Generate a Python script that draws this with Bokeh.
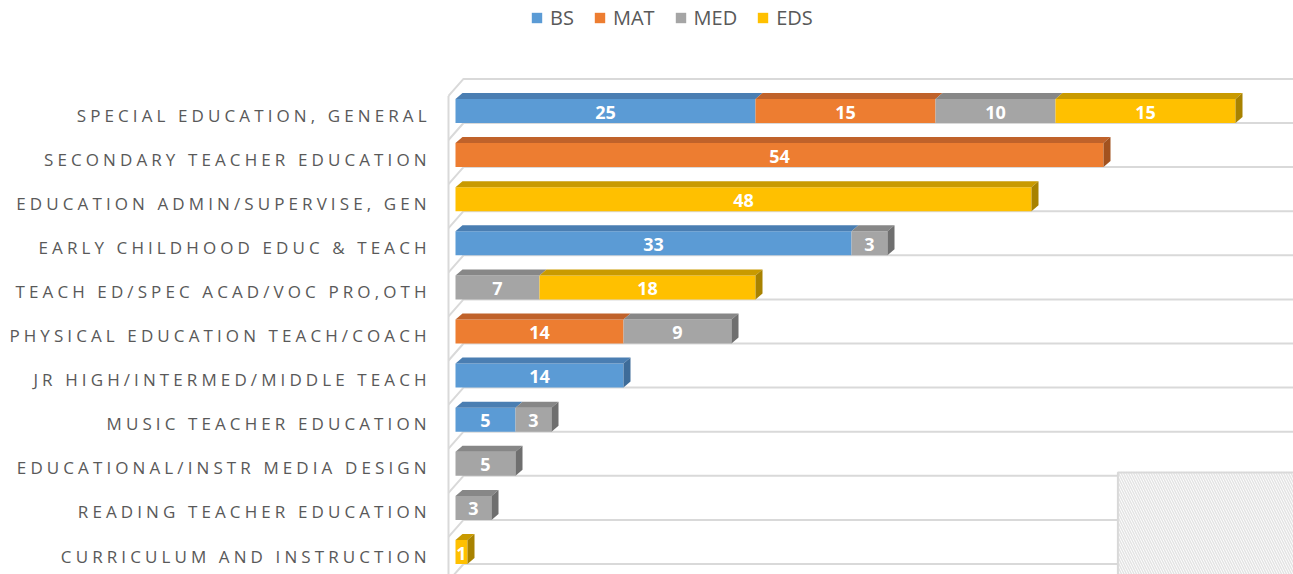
from bokeh.plotting import figure
from bokeh.models import Range1d, ColumnDataSource, Legend, LegendItem, InlineStyleSheet
from bokeh.layouts import row
from bokeh.embed import file_html
from bokeh.resources import INLINE
from bokeh.core.properties import value

# ---------------- data ----------------
categories = [
    "SPECIAL EDUCATION, GENERAL",
    "SECONDARY TEACHER EDUCATION",
    "EDUCATION ADMIN/SUPERVISE, GEN",
    "EARLY CHILDHOOD EDUC & TEACH",
    "TEACH ED/SPEC ACAD/VOC PRO,OTH",
    "PHYSICAL EDUCATION TEACH/COACH",
    "JR HIGH/INTERMED/MIDDLE TEACH",
    "MUSIC TEACHER EDUCATION",
    "EDUCATIONAL/INSTR MEDIA DESIGN",
    "READING TEACHER EDUCATION",
    "CURRICULUM AND INSTRUCTION",
]
series_names = ["BS", "MAT", "MED", "EDS"]
bs = [25, 0, 0, 33, 0, 0, 14, 5, 0, 0, 0]
mat = [15, 54, 0, 0, 0, 14, 0, 0, 0, 0, 0]
med = [10, 0, 0, 3, 7, 9, 0, 3, 5, 3, 0]
eds = [15, 0, 48, 0, 18, 0, 0, 0, 0, 0, 1]

# ---------------- style ----------------
front_colors = ["#5B9BD5", "#ED7D31", "#A5A5A5", "#FFC000"]
top_colors = ["#4A7EB2", "#C0622A", "#878787", "#C99A00"]
side_colors = ["#3E6C99", "#A2521F", "#6F6F6F", "#A88200"]
grid_color = "#D9D9D9"
label_color = "#595959"

LEFT_W = 440
MAIN_W = 853
H = 574
PX_PER_UNIT = 12.0
ZERO_PX = 15.0
ROW_PX = 44.1
FIRST_ROW_PX = 110.5
HALF_PX = 12.0
DEPTH_X_PX = 7.0
DEPTH_Y_PX = 6.0
LETTER_SP = 4.1

x_start = -ZERO_PX / PX_PER_UNIT
x_end = (MAIN_W - ZERO_PX) / PX_PER_UNIT
y_top = -FIRST_ROW_PX / ROW_PX
y_bottom = (H - FIRST_ROW_PX) / ROW_PX
y_range = Range1d(start=y_bottom, end=y_top)

h = HALF_PX / ROW_PX
dx = DEPTH_X_PX / PX_PER_UNIT
dy = DEPTH_Y_PX / ROW_PX

p = figure(width=MAIN_W, height=H, x_range=Range1d(x_start, x_end), y_range=y_range,
           x_axis_location=None, y_axis_location=None, toolbar_location=None,
           output_backend="svg", min_border=0, outline_line_color=None)
p.background_fill_color = "white"
p.border_fill_color = "white"
p.grid.visible = False

# ---- back wall / floor lines ----
wall_x = -DEPTH_X_PX / PX_PER_UNIT
join_x = 8.0 / PX_PER_UNIT
slant_dy = 17.0 / ROW_PX
gx, gy = [], []
for j in range(-1, len(categories)):
    yy = j + h
    gx.append([wall_x, join_x, x_end + 5])
    gy.append([yy + slant_dy, yy, yy])
gx.append([wall_x, wall_x])
gy.append([-1 + h + slant_dy, y_bottom + 1])
p.multi_line(xs=gx, ys=gy, line_color=grid_color, line_width=2)

# hatched overlay box (bottom right)
p.quad(left=[55.2], right=[x_end + 5], top=[8.2], bottom=[y_bottom + 1],
       fill_color="white", line_color=grid_color, line_width=2,
       hatch_pattern="\\", hatch_color="#E4E4E4", hatch_scale=5, hatch_weight=1.5)

# ---- bars ----
series = [bs, mat, med, eds]
front = [dict(left=[], right=[], top=[], bottom=[]) for _ in series]
top_xs, top_ys, top_c = [], [], []
side_xs, side_ys, side_c = [], [], []
lab_x, lab_y, lab_t = [], [], []
for i in range(len(categories)):
    start = 0
    segs = []
    for s, vals in enumerate(series):
        v = vals[i]
        if v > 0:
            segs.append((s, start, start + v, v))
            start += v
    for (s, l, r, v) in segs:
        front[s]["left"].append(l)
        front[s]["right"].append(r)
        front[s]["top"].append(i - h)
        front[s]["bottom"].append(i + h)
        top_xs.append([l, r, r + dx, l + dx])
        top_ys.append([i - h, i - h, i - h - dy, i - h - dy])
        top_c.append(top_colors[s])
        lab_x.append((l + r) / 2)
        lab_y.append(i)
        lab_t.append(str(v))
    s, l, r, v = segs[-1]
    side_xs.append([r, r + dx, r + dx, r])
    side_ys.append([i - h, i - h - dy, i + h - dy, i + h])
    side_c.append(side_colors[s])

renderers = []
for s, name in enumerate(series_names):
    r = p.quad(source=ColumnDataSource(front[s]), left="left", right="right", top="top",
               bottom="bottom", fill_color=front_colors[s], line_color=None)
    renderers.append(r)
p.patches(xs=top_xs, ys=top_ys, fill_color=top_c, line_color=None)
p.patches(xs=side_xs, ys=side_ys, fill_color=side_c, line_color=None)

p.text(x=lab_x, y=lab_y, text=lab_t, text_align="center", text_baseline="middle",
       text_color="white", text_font=value("Open Sans"), text_font_style="bold",
       text_font_size="18px", y_offset=1)

legend = Legend(items=[LegendItem(label=n, renderers=[r]) for n, r in zip(series_names, renderers)],
                orientation="horizontal", location=(90, 543), padding=0, margin=0,
                glyph_width=13, glyph_height=13, label_standoff=7, spacing=19,
                label_text_font="Open Sans", label_text_font_size="20px",
                label_text_color=label_color, border_line_color=None,
                background_fill_alpha=0)
p.add_layout(legend, "center")

# ---------------- left labels figure ----------------
lf = figure(width=LEFT_W, height=H, x_range=Range1d(0, LEFT_W), y_range=y_range,
            x_axis_location=None, y_axis_location=None, toolbar_location=None,
            output_backend="svg", min_border=0, outline_line_color=None)
lf.grid.visible = False
lf.stylesheets = [InlineStyleSheet(css=":host { letter-spacing: %.1fpx; }" % LETTER_SP)]
lf.text(x=[426] * len(categories), y=list(range(len(categories))), text=categories,
        x_offset=[-(len(c) - 1) * LETTER_SP for c in categories], y_offset=4,
        text_align="right", text_baseline="middle", text_color=label_color,
        text_font=value("Open Sans"), text_font_size="17px")

layout = row(lf, p, spacing=0)
open("out.html", "w").write(file_html(layout, INLINE))
